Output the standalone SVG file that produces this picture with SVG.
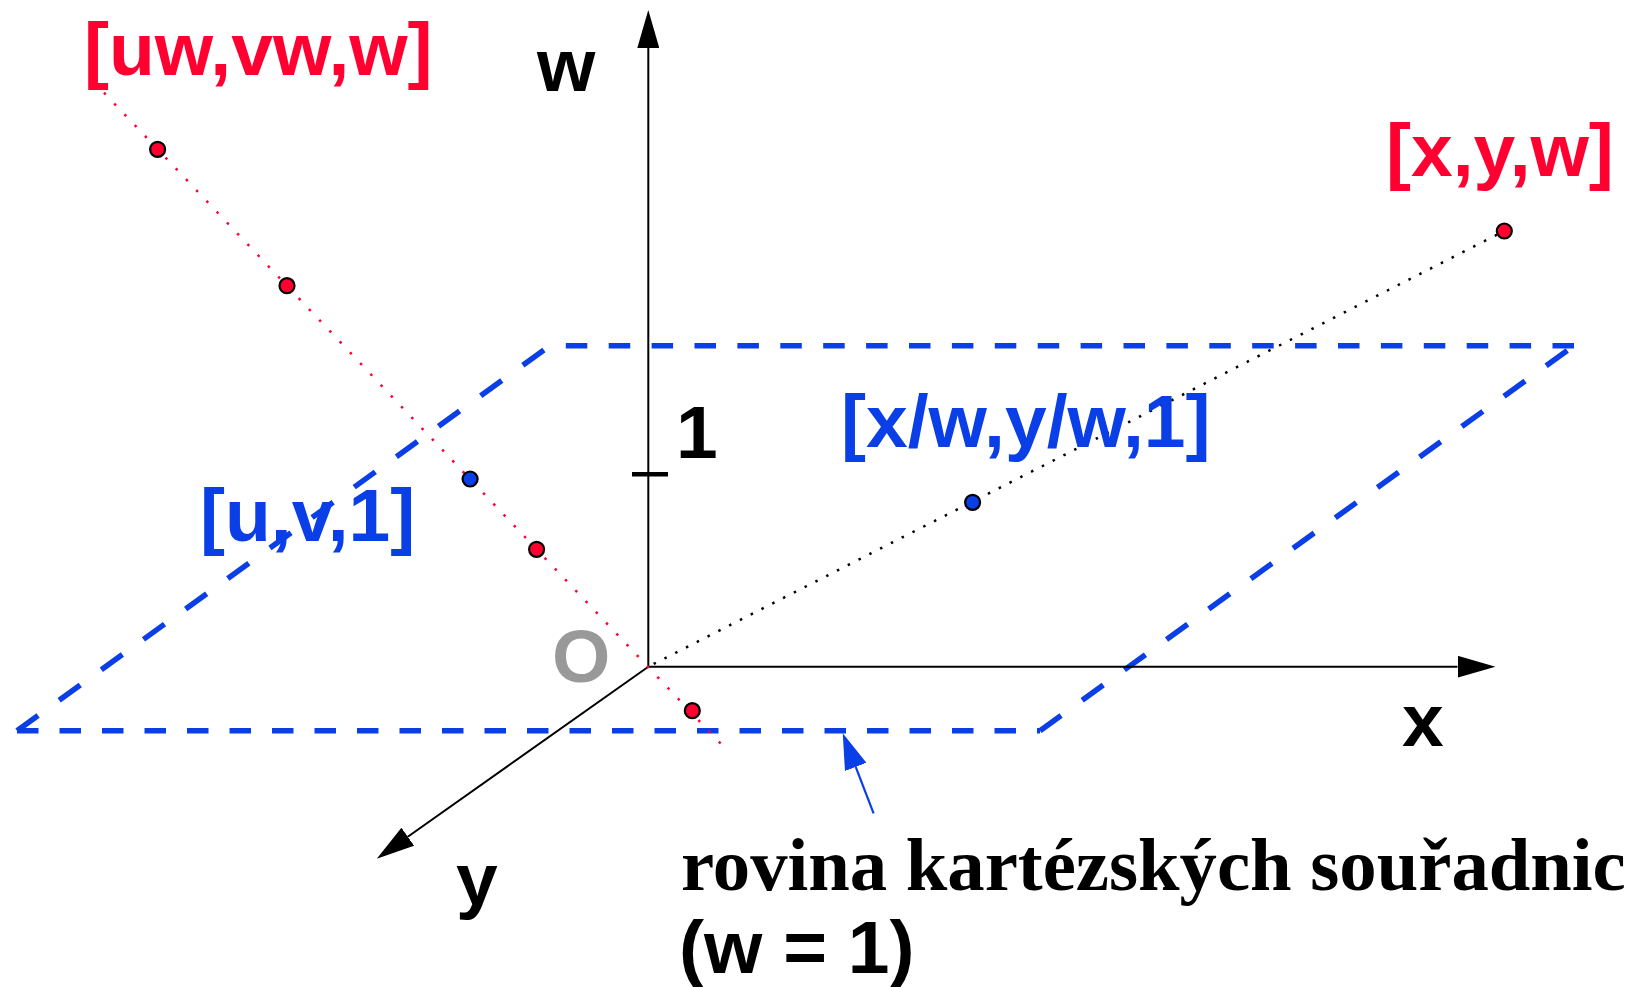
<svg xmlns="http://www.w3.org/2000/svg" width="1634" height="987" viewBox="0 0 1634 987">
<style>
.sans{font-family:"Liberation Sans",Arial,sans-serif;font-weight:bold;font-size:75px}
.red{fill:#ff0030}
.blue{fill:#0a3ee6}
.blk{fill:#000}
.serif{font-family:"Liberation Serif","Times New Roman",serif;font-weight:bold;font-size:74.7px;fill:#000}
.axis{stroke:#000;stroke-width:2;fill:none}
.dash{stroke:#0a3ee6;stroke-width:5.5;fill:none}
.pt{stroke:#000;stroke-width:2.2}
</style>
<defs>
<marker id="ah" viewBox="0 0 38 22" refX="0" refY="11" markerWidth="38" markerHeight="22" markerUnits="userSpaceOnUse" orient="auto">
<path d="M0,0 L38,11 L0,22 z" fill="#000"/>
</marker>
<marker id="ahb" viewBox="0 0 36 23" refX="0" refY="11.5" markerWidth="36" markerHeight="23" markerUnits="userSpaceOnUse" orient="auto">
<path d="M0,0 L36,11.5 L0,23 z" fill="#0a3ee6"/>
</marker>
</defs>
<rect width="1634" height="987" fill="#fff"/>
<g id="plane">
<line class="dash" x1="17" y1="730.7" x2="1040" y2="730.7" stroke-dasharray="21.5 21"/>
<line class="dash" x1="17" y1="730.7" x2="550" y2="345.7" stroke-dasharray="26 26"/>
<line class="dash" x1="1574" y1="345.7" x2="550" y2="345.7" stroke-dasharray="21.5 21.4"/>
<line class="dash" x1="1040" y1="730.7" x2="1574" y2="345.7" stroke-dasharray="26 26"/>
</g>
<g id="connectors">
<line class="axis" x1="648.3" y1="666.7" x2="648.3" y2="48" marker-end="url(#ah)"/>
<line class="axis" x1="648.3" y1="666.7" x2="1457.5" y2="666.7" marker-end="url(#ah)"/>
<line class="axis" x1="648.3" y1="666.7" x2="407.8" y2="836.7" marker-end="url(#ah)"/>
<line x1="632" y1="474.3" x2="668" y2="474.3" stroke="#000" stroke-width="4.5"/>
<line x1="104" y1="92.7" x2="722" y2="745" stroke="#ff0030" stroke-width="2.5" stroke-dasharray="2.5 12.4"/>
<line x1="648.3" y1="666.7" x2="1504.3" y2="231" stroke="#000" stroke-width="2.5" stroke-dasharray="2.5 9.6" stroke-dashoffset="-6"/>
<line x1="873.6" y1="813.3" x2="855.7" y2="766.9" stroke="#0a3ee6" stroke-width="2.2" marker-end="url(#ahb)"/>
</g>
<g id="points">
<circle class="pt red" cx="157.6" cy="149.3" r="7.5"/>
<circle class="pt red" cx="287" cy="285.7" r="7.5"/>
<circle class="pt blue" cx="470.1" cy="479" r="7.5"/>
<circle class="pt red" cx="536.6" cy="549.3" r="7.5"/>
<circle class="pt red" cx="692.3" cy="710.7" r="7.5"/>
<circle class="pt red" cx="1504.3" cy="231" r="7.5"/>
<circle class="pt blue" cx="972.6" cy="502.3" r="7.5"/>
</g>
<g id="labels">
<text class="sans red" x="84" y="75">[uw,vw,w]</text>
<text class="sans blk" x="537" y="90.7">w</text>
<text class="sans red" x="1386" y="176">[x,y,w]</text>
<text class="sans blk" x="676" y="458.3">1</text>
<text class="sans blue" x="841" y="447">[x/w,y/w,1]</text>
<text class="sans blue" x="200" y="540.5">[u,v,1]</text>
<text class="sans" x="552" y="682" fill="#999">O</text>
<text class="sans blk" x="1402" y="746">x</text>
<text class="sans blk" x="456" y="904.7">y</text>
<text class="serif" x="681" y="890">rovina kartézských souřadnic</text>
<text class="sans blk" x="679" y="973">(w = 1)</text>
</g>
</svg>
